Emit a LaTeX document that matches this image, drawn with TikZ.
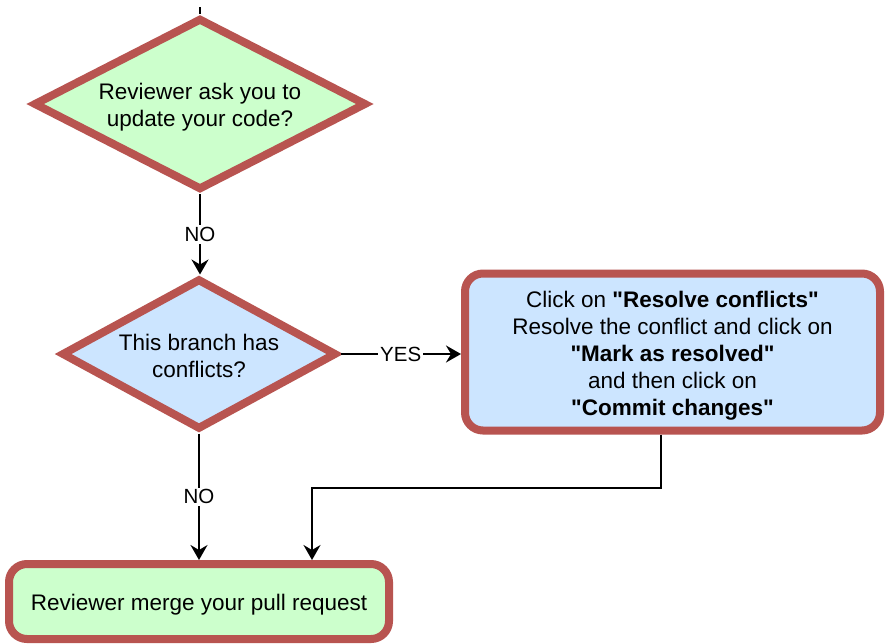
\documentclass[tikz,border=0pt]{standalone}
\usepackage{fontspec}
\setmainfont{Liberation Sans}[Ligatures=TeXOff]
\usetikzlibrary{shapes.geometric,arrows.meta}
\definecolor{edgered}{HTML}{B85450}
\definecolor{fillgreen}{HTML}{CCFFCC}
\definecolor{fillblue}{HTML}{CCE5FF}
\newcommand{\dq}{\symbol{34}}
\newcommand{\tstrut}[1]{\rule{0pt}{#1}}
\tikzset{
  decision/.style={diamond, draw=edgered, line width=8pt, aspect=2, inner sep=0pt,
    align=center, font=\fontsize{22.5}{27}\selectfont},
  procbox/.style={rectangle, rounded corners=18pt, draw=edgered, line width=8pt, inner sep=0pt,
    align=center, font=\fontsize{22.5}{27}\selectfont},
  conn/.style={line width=2pt, -{Stealth[length=15pt,width=17pt,inset=5pt]}},
  plain/.style={line width=2pt},
  lbl/.style={fill=white, inner sep=2pt, font=\fontsize{20.5}{24}\selectfont}
}
\begin{document}
\begin{tikzpicture}[x=1pt,y=-1pt]
\useasboundingbox (0,0) rectangle (885,643);
\fill[white] (0,0) rectangle (885,643);
\node[decision, fill=fillgreen, minimum width=333pt, minimum height=172pt] (d1) at (200,104)
  {\tstrut{22pt}Reviewer ask you to\\update your code?};
\node[decision, fill=fillblue, minimum width=275pt, minimum height=151pt] (d2) at (199,354)
  {\tstrut{20pt}This branch has\\conflicts?};
\node[procbox, fill=fillblue, minimum width=415pt, minimum height=157pt] (b1) at (672.5,352)
  {\tstrut{24pt}Click on \textbf{\dq Resolve conflicts\dq}\\Resolve the conflict and click on\\\textbf{\dq Mark as resolved\dq}\\and then click on\\\textbf{\dq Commit changes\dq}};
\node[procbox, fill=fillgreen, minimum width=380pt, minimum height=75pt] (b2) at (199,601.5)
  {\tstrut{22pt}Reviewer merge your pull request};
\coordinate (top) at (200,7);
\coordinate (m1) at (661,488);
\coordinate (m2) at (312,488);
\draw[plain] (top) -- (d1.north);
\draw[conn] (d1.south) -- node[lbl]{NO} (d1.south |- d2.north);
\draw[conn] (d2.east) -- node[lbl]{YES} (d2.east -| b1.west);
\draw[conn] (d2.south) -- node[lbl]{NO} (d2.south |- b2.north);
\draw[conn] (b1.south -| m1) -- (m1) -- (m2) -- (m2 |- b2.north);
\end{tikzpicture}
\end{document}
